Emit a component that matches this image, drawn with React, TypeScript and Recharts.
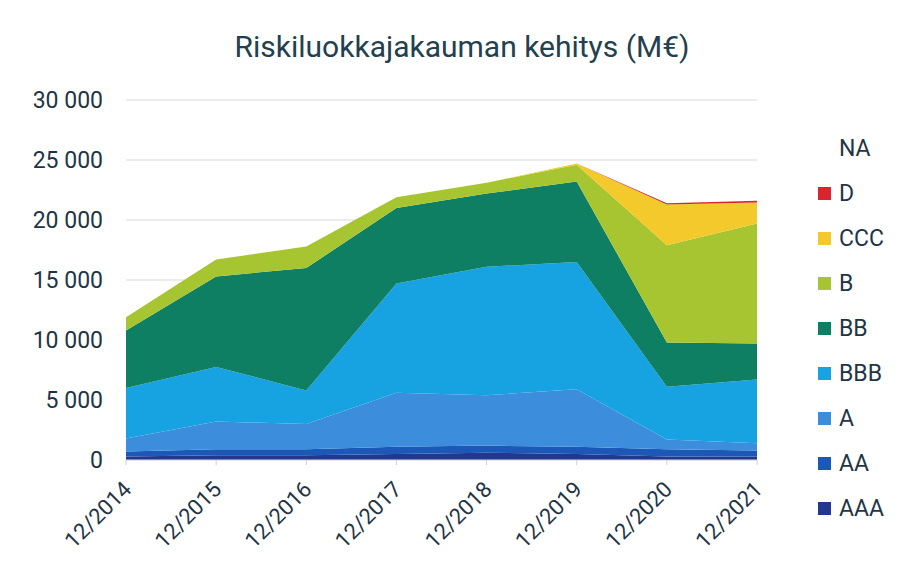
import { Area, AreaChart, CartesianGrid, XAxis, YAxis } from "recharts";

type TickProps = {
  x?: number | string;
  y?: number | string;
  payload?: { value?: number | string };
};

const YEARS = ["12/2014", "12/2015", "12/2016", "12/2017", "12/2018", "12/2019", "12/2020", "12/2021"];

// M€ per class
const AAA = [300, 400, 400, 500, 600, 500, 300, 300];
const AA = [400, 500, 500, 600, 600, 600, 600, 500];
const A = [1100, 2300, 2100, 4500, 4200, 4800, 800, 600];
const BBB = [4200, 4550, 2800, 9100, 10700, 10600, 4400, 5300];
const BB = [4800, 7550, 10200, 6300, 6100, 6700, 3700, 3000];
const B = [1100, 1400, 1800, 900, 900, 1400, 8100, 10000];
const CCC = [0, 0, 0, 0, 0, 100, 3400, 1750];
const D = [0, 0, 0, 0, 0, 0, 100, 150];
const NA = [0, 0, 0, 0, 0, 0, 0, 0];

const Y_TICKS = [0, 5000, 10000, 15000, 20000, 25000, 30000];

const SERIES = [
  { key: "AAA", values: AAA, color: "#22378e" },
  { key: "AA", values: AA, color: "#1c58b8" },
  { key: "A", values: A, color: "#3c8ddb" },
  { key: "BBB", values: BBB, color: "#17a2e2" },
  { key: "BB", values: BB, color: "#0e7f62" },
  { key: "B", values: B, color: "#a6c531" },
  { key: "CCC", values: CCC, color: "#f3c92c" },
  { key: "D", values: D, color: "#d9262e" },
  { key: "NA", values: NA, color: "#ffffff" },
];

const data = YEARS.map((label, i) => {
  const row: Record<string, number | string> = { label };
  SERIES.forEach((s) => {
    row[s.key] = s.values[i];
  });
  return row;
});

const TEXT = "#1f3547";

function formatThousands(value: number) {
  return String(value).replace(/\B(?=(\d{3})+(?!\d))/g, " ");
}

function XTick({ payload, x = 0, y = 0 }: TickProps) {
  return (
    <g transform={`translate(${Number(x) + 1},${Number(y) + 18}) rotate(-45)`}>
      <text fill={TEXT} fontSize={22} textAnchor="end" x={0} y={0} dy={8}>
        {payload?.value}
      </text>
    </g>
  );
}

function LegendList() {
  const items = [...SERIES].reverse();
  return (
    <ul style={{ position: "absolute", left: 818, top: 126, listStyle: "none", margin: 0, padding: 0 }}>
      {items.map((s) => (
        <li key={s.key} style={{ display: "flex", alignItems: "center", height: 45, color: TEXT, fontSize: 23 }}>
          <i style={{ display: "inline-block", width: 13, height: 13, background: s.color, marginRight: 8 }} />
          <span>{s.key}</span>
        </li>
      ))}
    </ul>
  );
}

export default function App() {
  return (
    <div style={{ position: "relative", width: 906, height: 578, background: "#fff", fontFamily: "Roboto, sans-serif" }}>
      <style>{"body{margin:0}"}</style>
      <div
        style={{
          position: "absolute",
          top: 27,
          left: 0,
          width: 924,
          textAlign: "center",
          fontSize: 30,
          color: "#22404f",
          lineHeight: "40px",
        }}
      >
        Riskiluokkajakauman kehitys (M€)
      </div>
      <AreaChart data={data} height={578} margin={{ bottom: 0, left: 0, right: 149, top: 100 }} width={906}>
        <CartesianGrid stroke="#d9d9d9" vertical={false} />
        <XAxis
          axisLine={{ stroke: "#dcdcdc" }}
          dataKey="label"
          height={118}
          interval={0}
          tick={XTick}
          tickLine={{ stroke: "#d0d0d0" }}
          tickSize={5}
        />
        <YAxis
          axisLine={false}
          domain={[0, 30000]}
          tick={{ fill: TEXT, fontSize: 23 }}
          tickFormatter={(v) => formatThousands(Number(v))}
          tickLine={false}
          tickMargin={17}
          ticks={Y_TICKS}
          width={126}
        />
        {SERIES.map((s) => (
          <Area
            dataKey={s.key}
            fill={s.color}
            fillOpacity={1}
            isAnimationActive={false}
            key={s.key}
            stackId="risk"
            stroke="none"
            type="linear"
          />
        ))}
      </AreaChart>
      <LegendList />
    </div>
  );
}
